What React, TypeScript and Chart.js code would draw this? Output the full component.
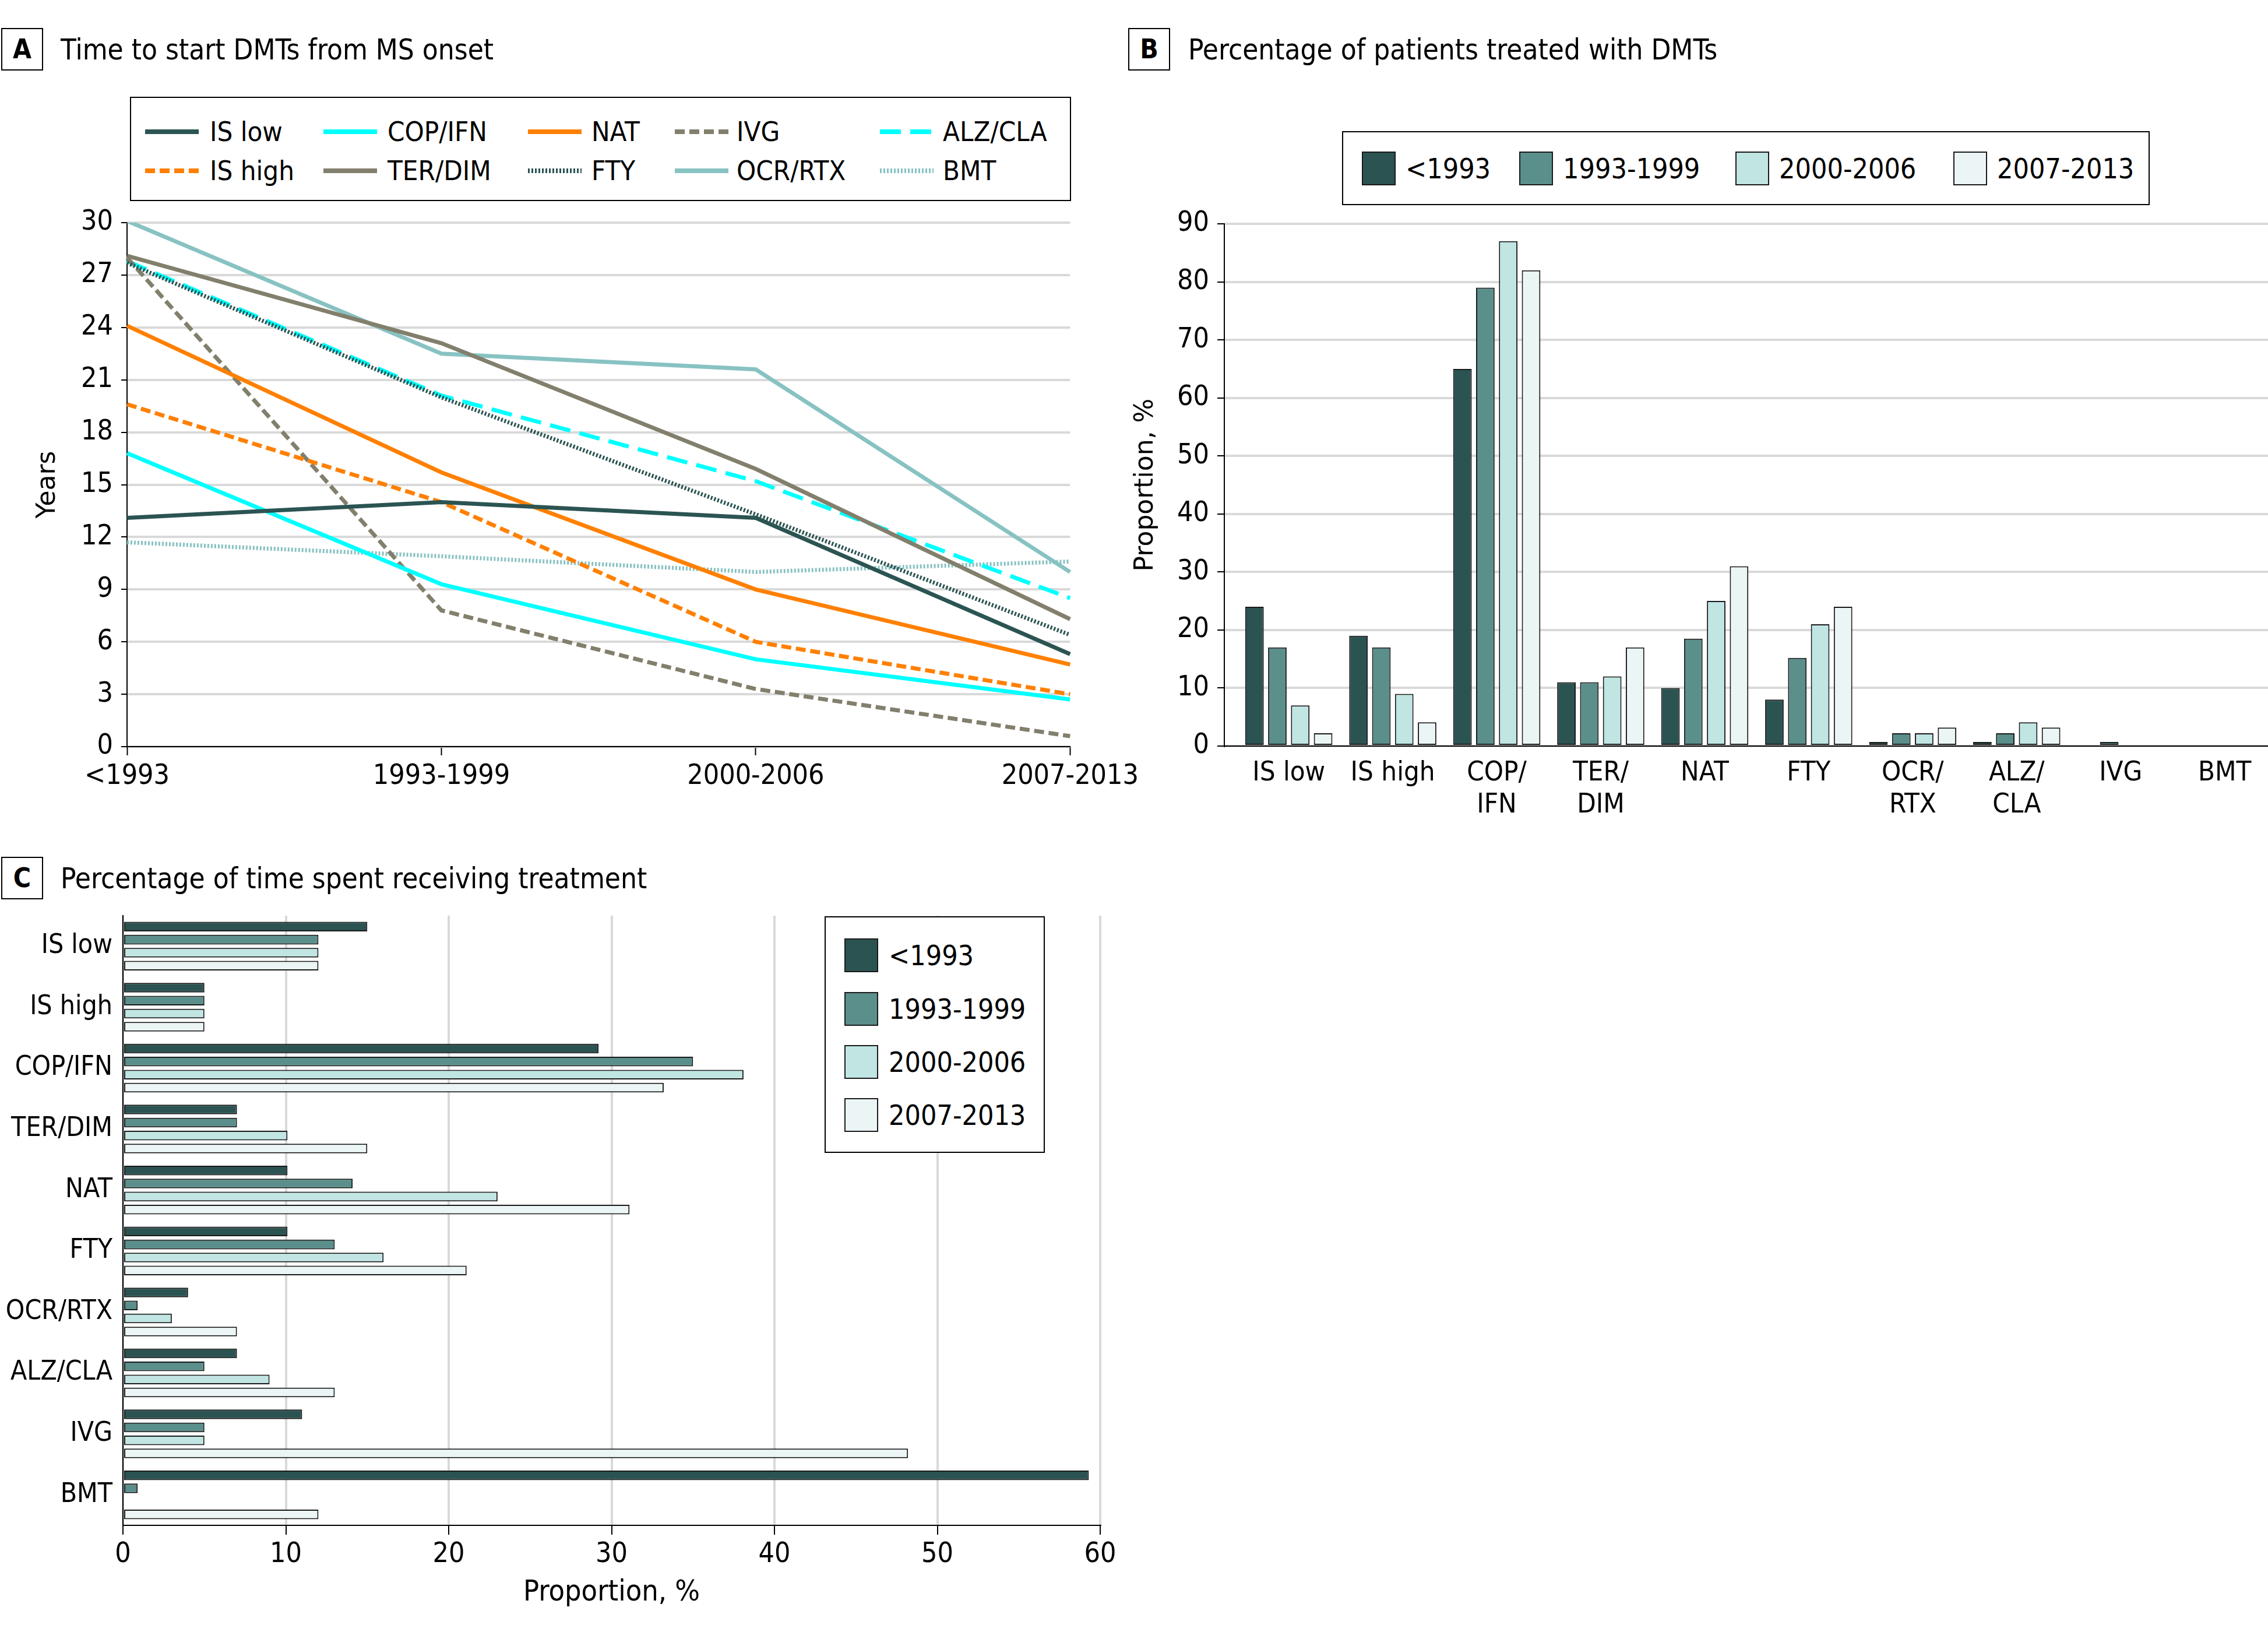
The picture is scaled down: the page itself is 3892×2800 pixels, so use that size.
import React, { useEffect, useRef } from 'react';
import { Chart, registerables } from 'chart.js';

Chart.register(...registerables);

// ---------------- DATA ----------------
const periods = ['<1993', '1993-1999', '2000-2006', '2007-2013'];
const treatments = ['IS low', 'IS high', 'COP/IFN', 'TER/DIM', 'NAT', 'FTY', 'OCR/RTX', 'ALZ/CLA', 'IVG', 'BMT'];
const treatmentLabelsB = [['IS low'], ['IS high'], ['COP/', 'IFN'], ['TER/', 'DIM'], ['NAT'], ['FTY'], ['OCR/', 'RTX'], ['ALZ/', 'CLA'], ['IVG'], ['BMT']];

// Panel A: years from MS onset to DMT start, by onset period
const yearsISLow = [13.1, 14.0, 13.1, 5.3];
const yearsISHigh = [19.6, 14.0, 6.0, 3.0];
const yearsCOPIFN = [16.8, 9.3, 5.0, 2.7];
const yearsTERDIM = [28.1, 23.1, 15.9, 7.3];
const yearsNAT = [24.1, 15.7, 9.0, 4.7];
const yearsFTY = [27.7, 20.0, 13.3, 6.4];
const yearsIVG = [28.0, 7.8, 3.3, 0.6];
const yearsOCRRTX = [30.1, 22.5, 21.6, 10.0];
const yearsALZCLA = [27.8, 20.1, 15.2, 8.5];
const yearsBMT = [11.7, 10.9, 10.0, 10.6];
const yearTicks = [0, 3, 6, 9, 12, 15, 18, 21, 24, 27, 30];

// Panel B: % of patients treated, per treatment (one array per onset period)
const treatedPre1993 = [24, 19, 65, 11, 10, 8, 0.7, 0.7, null, null];
const treated1993to1999 = [17, 17, 79, 11, 18.5, 15.2, 2.2, 2.2, 0.7, null];
const treated2000to2006 = [7, 9, 87, 12, 25, 21, 2.2, 4.1, null, null];
const treated2007to2013 = [2.2, 4.1, 82, 17, 31, 24, 3.2, 3.2, null, null];
const treatedTicks = [0, 10, 20, 30, 40, 50, 60, 70, 80, 90];

// Panel C: % of time spent receiving treatment
const timePre1993 = [15, 5, 29.2, 7, 10.1, 10.1, 4, 7, 11, 59.3];
const time1993to1999 = [12, 5, 35, 7, 14.1, 13, 0.9, 5, 5, 0.9];
const time2000to2006 = [12, 5, 38.1, 10.1, 23, 16, 3, 9, 5, null];
const time2007to2013 = [12, 5, 33.2, 15, 31.1, 21.1, 7, 13, 48.2, 12];
const timeTicks = [0, 10, 20, 30, 40, 50, 60];

// ---------------- STYLES ----------------
const NARROW = '"DejaVu Sans Condensed", "Liberation Sans Narrow", sans-serif';
const WIDE = '"DejaVu Sans", Verdana, sans-serif';

const DARK = '#2b5452';
const ORANGE = '#ff8000';
const CYAN = '#00ffff';
const TAUPE = '#827f6c';
const SAGE = '#88c2c2';
const GRID = '#d9d9d9';

const periodColors = ['#2b5351', '#5a8f8c', '#c0e5e3', '#ebf5f5'];

const seriesA = [
  { label: 'IS low', data: yearsISLow },
  { label: 'IS high', data: yearsISHigh },
  { label: 'COP/IFN', data: yearsCOPIFN },
  { label: 'TER/DIM', data: yearsTERDIM },
  { label: 'NAT', data: yearsNAT },
  { label: 'FTY', data: yearsFTY },
  { label: 'IVG', data: yearsIVG },
  { label: 'OCR/RTX', data: yearsOCRRTX },
  { label: 'ALZ/CLA', data: yearsALZCLA },
  { label: 'BMT', data: yearsBMT },
];

const lineStyles: Record<string, { color: string; dash: number[] }> = {
  'IS low': { color: DARK, dash: [] },
  'IS high': { color: ORANGE, dash: [17, 8] },
  'COP/IFN': { color: CYAN, dash: [] },
  'TER/DIM': { color: TAUPE, dash: [] },
  'NAT': { color: ORANGE, dash: [] },
  'FTY': { color: DARK, dash: [3, 3] },
  'IVG': { color: TAUPE, dash: [17, 8] },
  'OCR/RTX': { color: SAGE, dash: [] },
  'ALZ/CLA': { color: CYAN, dash: [36, 16] },
  'BMT': { color: SAGE, dash: [3, 3] },
};

// legend grid of panel A (column-major order)
const legendColumnsA = [
  ['IS low', 'IS high'],
  ['COP/IFN', 'TER/DIM'],
  ['NAT', 'FTY'],
  ['IVG', 'OCR/RTX'],
  ['ALZ/CLA', 'BMT'],
];

const seriesB = [treatedPre1993, treated1993to1999, treated2000to2006, treated2007to2013];
const seriesC = [timePre1993, time1993to1999, time2000to2006, time2007to2013];

// ---------------- HELPERS ----------------
function Text({ x, cy, size, children, family = NARROW, weight = 400 }: any) {
  const lh = Math.round(size * 1.2);
  const style: any = {
    position: 'absolute', left: x, top: cy - lh / 2, height: lh, lineHeight: lh + 'px', fontSize: size,
    fontFamily: family, fontWeight: weight, whiteSpace: 'nowrap', color: '#000',
  };
  return <div style={style}>{children}</div>;
}

function PanelTag({ x, y, letter, title, titleX }: any) {
  return (
    <>
      <div style={{ position: 'absolute', left: x, top: y, width: 72, height: 73, boxSizing: 'border-box', border: '2px solid #000', background: '#fff' }}>
        <div style={{ position: 'absolute', left: 0, top: 0, width: 68, height: 69, lineHeight: '69px', textAlign: 'center', fontFamily: NARROW, fontWeight: 700, fontSize: 46 }}>{letter}</div>
      </div>
      <Text x={titleX} cy={y + 37} size={49}>{title}</Text>
    </>
  );
}

function useChart(ref: any, make: () => any) {
  useEffect(() => {
    const chart = new Chart(ref.current, make());
    return () => chart.destroy();
  }, []);
}

const tickSetter = (vals: number[]) => (s: any) => { s.ticks = vals.map((v) => ({ value: v })); };

// ---------------- PANEL A ----------------
const A_W = 1967, A_H = 1420;
function ChartA() {
  const ref = useRef<HTMLCanvasElement>(null);
  useChart(ref, () => ({
    type: 'line',
    data: {
      labels: periods,
      datasets: seriesA.map((s) => ({
        label: s.label,
        data: s.data,
        borderColor: lineStyles[s.label].color,
        backgroundColor: lineStyles[s.label].color,
        borderDash: lineStyles[s.label].dash,
        borderWidth: 7,
        borderCapStyle: 'butt',
        pointRadius: 0,
        pointHoverRadius: 0,
        tension: 0,
        fill: false,
      })),
    },
    options: {
      responsive: false,
      animation: false,
      devicePixelRatio: 1,
      events: [],
      layout: { padding: { top: 382, right: 130, left: 0, bottom: 0 } },
      plugins: { legend: { display: false }, tooltip: { enabled: false } },
      scales: {
        x: {
          type: 'category',
          offset: false,
          grid: { drawOnChartArea: false, drawTicks: true, tickLength: 15, tickColor: '#000', tickWidth: 2 },
          border: { display: true, color: '#000', width: 2 },
          ticks: { font: { family: NARROW, size: 48, lineHeight: 1 }, color: '#000', padding: 13, maxRotation: 0, autoSkip: false },
          afterFit: (s: any) => { s.height = A_H - 1281; },
        },
        y: {
          min: 0,
          max: 30,
          afterBuildTicks: tickSetter(yearTicks),
          grid: { color: GRID, lineWidth: 4, drawTicks: true, tickLength: 10, tickColor: '#000', tickWidth: 2 },
          border: { display: true, color: '#000', width: 2 },
          ticks: { font: { family: NARROW, size: 48 }, color: '#000', padding: 14 },
          title: { display: true, text: 'Years', color: '#000', font: { family: WIDE, size: 44, lineHeight: 1.2 }, padding: { top: 56, bottom: 0 } },
          afterFit: (s: any) => { s.width = 218; },
        },
      },
    },
  }));
  return <canvas ref={ref} width={A_W} height={A_H} style={{ position: 'absolute', left: 0, top: 0, width: A_W, height: A_H }} />;
}

function LegendA() {
  const colX = [249, 555, 906, 1158, 1510];
  const textX = [360, 665, 1015, 1264, 1618];
  const rowY = [226, 293];
  return (
    <div style={{ position: 'absolute', left: 0, top: 0 }}>
      <div style={{ position: 'absolute', left: 223, top: 166, width: 1615, height: 179, boxSizing: 'border-box', border: '2px solid #000', background: '#fff' }} />
      {legendColumnsA.map((col, ci) =>
        col.map((name, ri) => {
          const st = lineStyles[name];
          return (
            <React.Fragment key={name}>
              <svg style={{ position: 'absolute', left: colX[ci], top: rowY[ri] - 10 }} width={92} height={20}>
                <line x1={0} y1={10} x2={92} y2={10} stroke={st.color} strokeWidth={8} strokeDasharray={st.dash.length ? st.dash.join(' ') : undefined} />
              </svg>
              <Text x={textX[ci]} cy={rowY[ri]} size={47}>{name}</Text>
            </React.Fragment>
          );
        })
      )}
    </div>
  );
}

// ---------------- PANEL B ----------------
const B_LEFT = 1930, B_W = 2105, B_H = 1420;
function ChartB() {
  const ref = useRef<HTMLCanvasElement>(null);
  useChart(ref, () => ({
    type: 'bar',
    data: {
      datasets: periods.map((p, i) => ({
        label: p,
        data: seriesB[i].map((v, j) => ({ x: j, y: v })),
        backgroundColor: periodColors[i],
        borderColor: '#1a1a1a',
        borderWidth: 2,
        borderSkipped: false,
        categoryPercentage: 0.88,
        barPercentage: 0.81,
      })),
    },
    options: {
      responsive: false,
      animation: false,
      devicePixelRatio: 1,
      events: [],
      layout: { padding: { top: 384, right: 5, left: 0, bottom: 0 } },
      plugins: { legend: { display: false }, tooltip: { enabled: false } },
      scales: {
        x: {
          type: 'linear',
          offset: false,
          min: -0.62,
          max: 10.19,
          afterBuildTicks: tickSetter(treatments.map((_, i) => i)),
          grid: { display: false, drawTicks: false, offset: false },
          border: { display: true, color: '#000', width: 2 },
          ticks: {
            callback: (v: number) => treatmentLabelsB[v],
            font: { family: NARROW, size: 47, lineHeight: 1.17 }, color: '#000', padding: 19, maxRotation: 0, autoSkip: false,
          },
          afterFit: (s: any) => { s.height = B_H - 1280; },
        },
        y: {
          min: 0,
          max: 90,
          afterBuildTicks: tickSetter(treatedTicks),
          grid: { color: GRID, lineWidth: 4, drawTicks: true, tickLength: 12, tickColor: '#000', tickWidth: 2 },
          border: { display: true, color: '#000', width: 2 },
          ticks: { font: { family: NARROW, size: 48 }, color: '#000', padding: 14 },
          title: { display: true, text: 'Proportion, %', color: '#000', font: { family: WIDE, size: 44, lineHeight: 1.2 }, padding: { top: 10, bottom: 0 } },
          afterFit: (s: any) => { s.width = 171; },
        },
      },
    },
  }));
  return <canvas ref={ref} width={B_W} height={B_H} style={{ position: 'absolute', left: B_LEFT, top: 0, width: B_W, height: B_H }} />;
}

function LegendB() {
  const swX = [2337, 2607, 2978, 3352];
  const cy = 289;
  return (
    <div style={{ position: 'absolute', left: 0, top: 0 }}>
      <div style={{ position: 'absolute', left: 2303, top: 225, width: 1386, height: 127, boxSizing: 'border-box', border: '2px solid #000', background: '#fff' }} />
      {periods.map((p, i) => (
        <React.Fragment key={p}>
          <div style={{ position: 'absolute', left: swX[i], top: cy - 29, width: 58, height: 58, boxSizing: 'border-box', border: '2px solid #1a1a1a', background: periodColors[i] }} />
          <Text x={swX[i] + 75} cy={cy} size={48}>{p}</Text>
        </React.Fragment>
      ))}
    </div>
  );
}

// ---------------- PANEL C ----------------
const C_TOP = 1515, C_W = 1930, C_H = 1285;
function ChartC() {
  const ref = useRef<HTMLCanvasElement>(null);
  useChart(ref, () => ({
    type: 'bar',
    data: {
      labels: treatments,
      datasets: periods.map((p, i) => ({
        label: p,
        data: seriesC[i],
        backgroundColor: periodColors[i],
        borderColor: '#1a1a1a',
        borderWidth: 2,
        borderSkipped: false,
        categoryPercentage: 0.854,
        barPercentage: 0.74,
      })),
    },
    options: {
      indexAxis: 'y',
      responsive: false,
      animation: false,
      devicePixelRatio: 1,
      events: [],
      layout: { padding: { top: 56, right: 42, left: 0, bottom: 0 } },
      plugins: { legend: { display: false }, tooltip: { enabled: false } },
      scales: {
        x: {
          min: 0,
          max: 60,
          afterBuildTicks: tickSetter(timeTicks),
          grid: { color: GRID, lineWidth: 4, drawTicks: true, tickLength: 16, tickColor: '#000', tickWidth: 2 },
          border: { display: true, color: '#000', width: 2 },
          ticks: { font: { family: NARROW, size: 48, lineHeight: 1 }, color: '#000', padding: 11, maxRotation: 0 },
          title: { display: true, text: 'Proportion, %', color: '#000', font: { family: NARROW, size: 50, lineHeight: 1 }, padding: { top: 0, bottom: 42 } },
          afterFit: (s: any) => { s.height = C_H - (2617 - C_TOP); },
        },
        y: {
          grid: { display: false, drawTicks: false },
          border: { display: true, color: '#000', width: 2 },
          ticks: { font: { family: NARROW, size: 46 }, color: '#000', padding: 18, autoSkip: false },
          afterFit: (s: any) => { s.width = 211; },
        },
      },
    },
  }));
  return <canvas ref={ref} width={C_W} height={C_H} style={{ position: 'absolute', left: 0, top: C_TOP, width: C_W, height: C_H }} />;
}

function LegendC() {
  const swX = 1449;
  const rows = [1639, 1731, 1822, 1913];
  return (
    <div style={{ position: 'absolute', left: 0, top: 0 }}>
      <div style={{ position: 'absolute', left: 1415, top: 1572, width: 378, height: 406, boxSizing: 'border-box', border: '2px solid #000', background: '#fff' }} />
      {periods.map((p, i) => (
        <React.Fragment key={p}>
          <div style={{ position: 'absolute', left: swX, top: rows[i] - 29, width: 58, height: 58, boxSizing: 'border-box', border: '2px solid #1a1a1a', background: periodColors[i] }} />
          <Text x={1525} cy={rows[i]} size={48}>{p}</Text>
        </React.Fragment>
      ))}
    </div>
  );
}

export default function App() {
  return (
    <div style={{ position: 'absolute', left: 0, top: 0, width: 3892, height: 2800, background: '#fff', overflow: 'hidden' }}>
      <ChartA />
      <ChartB />
      <ChartC />
      <LegendA />
      <LegendB />
      <LegendC />
      <PanelTag x={2} y={48} letter="A" title="Time to start DMTs from MS onset" titleX={104} />
      <PanelTag x={1936} y={48} letter="B" title="Percentage of patients treated with DMTs" titleX={2039} />
      <PanelTag x={2} y={1470} letter="C" title="Percentage of time spent receiving treatment" titleX={104} />
    </div>
  );
}
